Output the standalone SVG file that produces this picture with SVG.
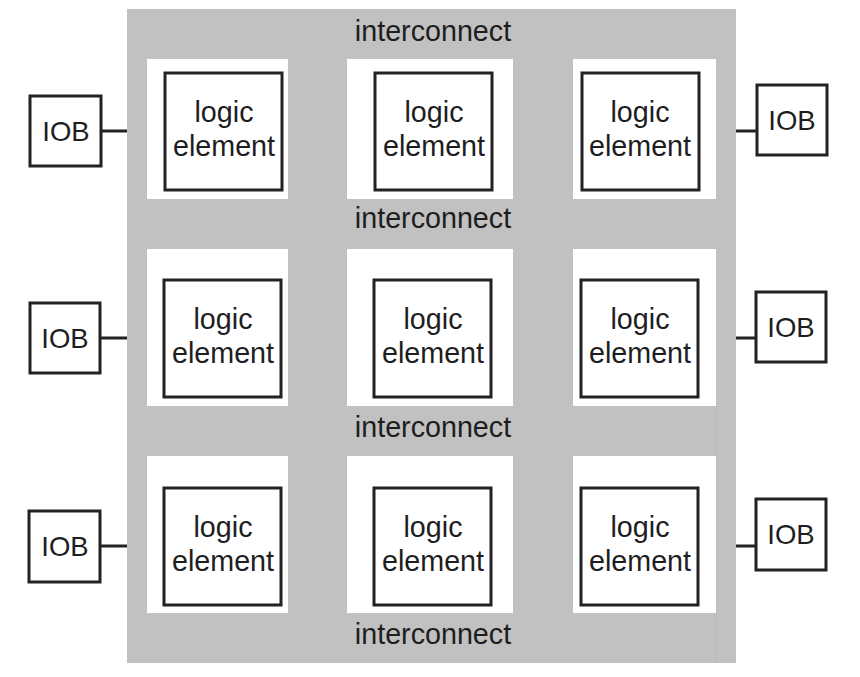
<svg xmlns="http://www.w3.org/2000/svg" width="860" height="677" viewBox="0 0 860 677">
<style>
.bg{fill:#c1c1c1}
.cell{fill:#ffffff}
.box{fill:#ffffff;stroke:#222;stroke-width:3}
.t{font-family:"Liberation Sans",Arial,sans-serif;font-size:28.7px;fill:#1e1e1e;text-anchor:middle}
.io{font-family:"Liberation Sans",Arial,sans-serif;font-size:27.5px;fill:#1e1e1e;text-anchor:middle}
.ln{stroke:#222;stroke-width:3;fill:none}
</style>
<rect width="860" height="677" fill="#ffffff"/>
<g id="fabric">
<rect class="bg" x="127" y="9" width="609" height="654"/>
<line x1="716" y1="406" x2="716" y2="663" stroke="#b9b9b9" stroke-width="1"/>
<text class="t" x="433" y="41">interconnect</text>
<text class="t" x="433" y="228">interconnect</text>
<text class="t" x="433" y="437">interconnect</text>
<text class="t" x="433" y="644">interconnect</text>
</g>
<g id="le11"><rect class="cell" x="147" y="59" width="141" height="140"/><rect class="box" x="165" y="73" width="117" height="117"/><text class="t" x="224" y="122">logic</text><text class="t" x="224" y="156">element</text></g>
<g id="le12"><rect class="cell" x="347" y="59" width="166" height="140"/><rect class="box" x="375" y="73" width="117" height="117"/><text class="t" x="434" y="122">logic</text><text class="t" x="434" y="156">element</text></g>
<g id="le13"><rect class="cell" x="573" y="59" width="143" height="140"/><rect class="box" x="582" y="73" width="117" height="117"/><text class="t" x="640" y="122">logic</text><text class="t" x="640" y="156">element</text></g>
<g id="le21"><rect class="cell" x="147" y="249" width="141" height="157"/><rect class="box" x="164" y="280" width="117" height="117"/><text class="t" x="223" y="329">logic</text><text class="t" x="223" y="363">element</text></g>
<g id="le22"><rect class="cell" x="347" y="249" width="166" height="157"/><rect class="box" x="374" y="280" width="117" height="117"/><text class="t" x="433" y="329">logic</text><text class="t" x="433" y="363">element</text></g>
<g id="le23"><rect class="cell" x="573" y="249" width="143" height="157"/><rect class="box" x="581" y="280" width="117" height="117"/><text class="t" x="640" y="329">logic</text><text class="t" x="640" y="363">element</text></g>
<g id="le31"><rect class="cell" x="147" y="456" width="141" height="157"/><rect class="box" x="164" y="488" width="117" height="117"/><text class="t" x="223" y="537">logic</text><text class="t" x="223" y="571">element</text></g>
<g id="le32"><rect class="cell" x="347" y="456" width="166" height="157"/><rect class="box" x="374" y="488" width="117" height="117"/><text class="t" x="433" y="537">logic</text><text class="t" x="433" y="571">element</text></g>
<g id="le33"><rect class="cell" x="573" y="456" width="143" height="157"/><rect class="box" x="581" y="488" width="117" height="117"/><text class="t" x="640" y="537">logic</text><text class="t" x="640" y="571">element</text></g>
<g id="iobL1"><rect class="box" x="30" y="96" width="71" height="70"/><text class="io" x="66" y="141">IOB</text></g>
<g id="iobL2"><rect class="box" x="30" y="303" width="70" height="70"/><text class="io" x="65" y="348">IOB</text></g>
<g id="iobL3"><rect class="box" x="29" y="511" width="71" height="71"/><text class="io" x="65" y="556">IOB</text></g>
<g id="iobR1"><rect class="box" x="757" y="85" width="70" height="70"/><text class="io" x="792" y="130">IOB</text></g>
<g id="iobR2"><rect class="box" x="756" y="292" width="70" height="70"/><text class="io" x="791" y="337">IOB</text></g>
<g id="iobR3"><rect class="box" x="756" y="499" width="70" height="71"/><text class="io" x="791" y="544">IOB</text></g>
<g id="connectors">
<line class="ln" x1="101" y1="131" x2="127" y2="131"/>
<line class="ln" x1="100" y1="338" x2="127" y2="338"/>
<line class="ln" x1="100" y1="546" x2="127" y2="546"/>
<line class="ln" x1="736" y1="131" x2="757" y2="131"/>
<line class="ln" x1="736" y1="338" x2="756" y2="338"/>
<line class="ln" x1="736" y1="546" x2="756" y2="546"/>
</g>
</svg>
